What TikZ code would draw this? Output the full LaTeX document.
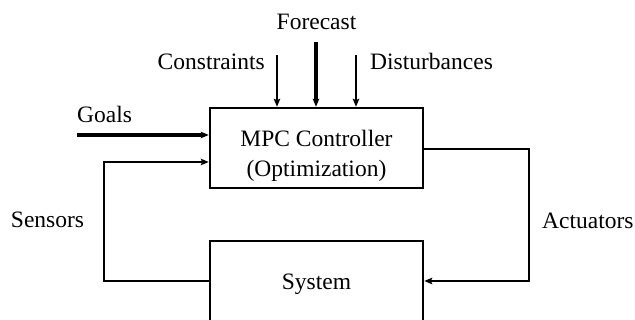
\documentclass[tikz,border=0pt]{standalone}
\usepackage{fontspec}
\setmainfont{Liberation Serif}
\usetikzlibrary{arrows.meta}
\begin{document}
\begin{tikzpicture}[x=1pt,y=-1pt,
  font=\fontsize{23.5}{28}\selectfont,
  box/.style={draw, line width=2.5pt, rectangle, inner sep=0pt},
  lbl/.style={anchor=base, inner sep=0pt},
  conn/.style={line width=2.2pt, line join=miter},
  tip/.style={-{Stealth[length=8pt,width=6.5pt,inset=1.5pt]}}]
\useasboundingbox (0,0) rectangle (635,320);
% boxes
\node[box, minimum width=213pt, minimum height=80pt] (mpc) at (316.5,148) {};
\node[box, minimum width=213pt, minimum height=80pt] (sys) at (316.5,281) {};
% texts
\node[lbl] (mpct1) at (316.5,147) {MPC Controller};
\node[lbl] (mpct2) at (316.5,177) {(Optimization)};
\node[lbl] (syst) at (316.5,290) {System};
\node[lbl] (fc) at (316.5,30) {Forecast};
\node[lbl, anchor=base east] (cons) at (265,70) {Constraints};
\node[lbl, anchor=base west] (dist) at (370,70) {Disturbances};
\node[lbl, anchor=base west] (goals) at (77,123) {Goals};
\node[lbl] (sens) at (47.5,228) {Sensors};
\node[lbl, anchor=base west] (act) at (542,229) {Actuators};
% coordinates
\coordinate (gs) at (77,135);
\coordinate (cs) at (277,55);
\coordinate (fs) at (316,42);
\coordinate (ds) at (356,55);
\coordinate (sl) at (104,281);
\coordinate (su) at (104,162);
\coordinate (ar) at (529,149);
\coordinate (ad) at (529,281);
% top inputs
\draw[tip, line width=2.2pt] (cs) -- (cs |- mpc.north);
\draw[tip, line width=3.2pt] (fs) -- (fs |- mpc.north);
\draw[tip, line width=2.8pt] (ds) -- (ds |- mpc.north);
% goals
\draw[tip, line width=3.2pt] (gs) -- (gs -| mpc.west);
% sensors feedback
\draw[conn, tip] (sl -| sys.west) -- (sl) -- (su) -- (su -| mpc.west);
% actuators
\draw[conn, tip] (ar -| mpc.east) -- (ar) -- (ad) -- (ad -| sys.east);
\end{tikzpicture}
\end{document}
